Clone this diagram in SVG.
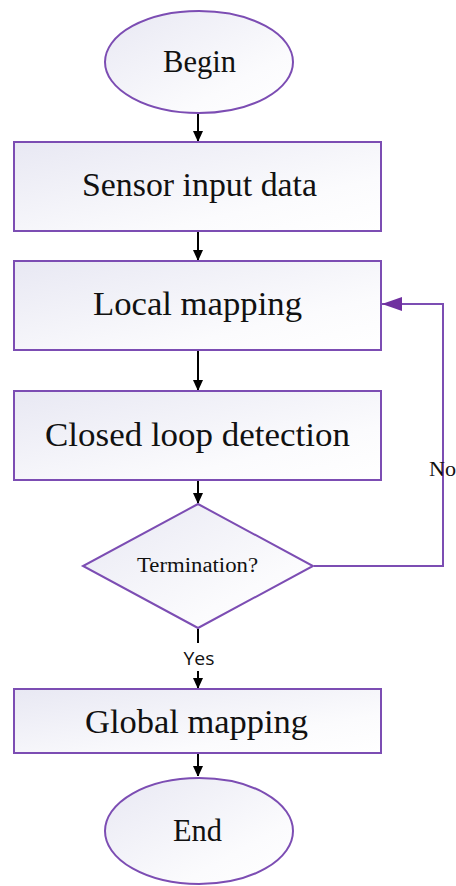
<svg xmlns="http://www.w3.org/2000/svg" width="456" height="886" viewBox="0 0 456 886">
<style>
.shape{stroke:#7c4db3;stroke-width:2;fill:url(#g)}
.t{font-family:"Liberation Serif","Times New Roman",serif;fill:#111;text-anchor:middle}
.big{font-size:34px}
.c{stroke:#000;stroke-width:2;fill:none}
</style>
<defs>
<linearGradient id="g" x1="0" y1="0" x2="1" y2="1">
<stop offset="0" stop-color="#e8e8f3"/>
<stop offset="0.7" stop-color="#fbfbfd"/>
<stop offset="1" stop-color="#ffffff"/>
</linearGradient>
<marker id="a" markerWidth="10" markerHeight="12" refX="10" refY="5" orient="auto" markerUnits="userSpaceOnUse">
<path d="M0,0 L11,5 L0,10 Z" fill="#000"/>
</marker>
<marker id="p" markerWidth="20" markerHeight="14" refX="20" refY="7" orient="auto" markerUnits="userSpaceOnUse">
<path d="M0,0 L20,7 L0,14 Z" fill="#7030a0"/>
</marker>
</defs>
<g id="begin"><ellipse class="shape" cx="199" cy="62" rx="94" ry="51"/><text class="t" x="199.5" y="72" font-size="31" textLength="73" lengthAdjust="spacingAndGlyphs">Begin</text></g>
<g id="sensor"><rect class="shape" x="14" y="142" width="367" height="89"/><text class="t big" x="199.5" y="196" textLength="235" lengthAdjust="spacingAndGlyphs">Sensor input data</text></g>
<g id="local"><rect class="shape" x="14" y="261" width="367" height="89"/><text class="t big" x="197.5" y="315" textLength="209" lengthAdjust="spacingAndGlyphs">Local mapping</text></g>
<g id="closed"><rect class="shape" x="14" y="391" width="367" height="89"/><text class="t big" x="197.5" y="446" textLength="305" lengthAdjust="spacingAndGlyphs">Closed loop detection</text></g>
<g id="termination"><polygon class="shape" points="198,504 313,566 198,628 83,566"/><text class="t" x="197.5" y="572" font-size="20" textLength="121" lengthAdjust="spacingAndGlyphs">Termination?</text></g>
<g id="global"><rect class="shape" x="14" y="689" width="367" height="64"/><text class="t big" x="196.5" y="733" textLength="223" lengthAdjust="spacingAndGlyphs">Global mapping</text></g>
<g id="end"><ellipse class="shape" cx="199" cy="831" rx="94" ry="53"/><text class="t" x="197.5" y="841" font-size="31" textLength="49" lengthAdjust="spacingAndGlyphs">End</text></g>
<g id="connectors">
<line class="c" x1="198" y1="114" x2="198" y2="141" marker-end="url(#a)"/>
<line class="c" x1="198" y1="232" x2="198" y2="260" marker-end="url(#a)"/>
<line class="c" x1="198" y1="351" x2="198" y2="390" marker-end="url(#a)"/>
<line class="c" x1="198" y1="481" x2="198" y2="503" marker-end="url(#a)"/>
<line class="c" x1="198" y1="629" x2="198" y2="643"/>
<line class="c" x1="198" y1="671" x2="198" y2="688" marker-end="url(#a)"/>
<line class="c" x1="198" y1="754" x2="198" y2="776" marker-end="url(#a)"/>
<polyline points="314,566 443,566 443,304 382,304" fill="none" stroke="#7c4db3" stroke-width="2" marker-end="url(#p)"/>
<text x="199" y="665" font-family="'Open Sans','Noto Sans',sans-serif" font-size="19" text-anchor="middle" fill="#111" textLength="31" lengthAdjust="spacingAndGlyphs">Yes</text>
<text x="429" y="476" font-family="'Liberation Serif',serif" font-size="22" fill="#111" textLength="27" lengthAdjust="spacingAndGlyphs">No</text>
</g>
</svg>
